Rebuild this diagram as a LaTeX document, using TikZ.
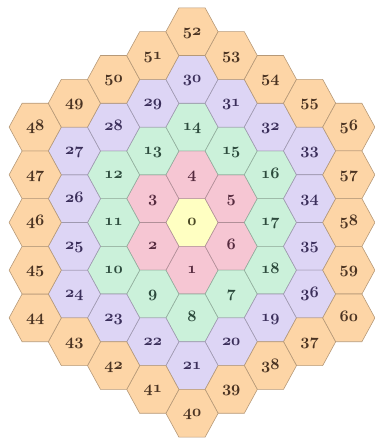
\documentclass[tikz,border=0pt]{standalone}
\usepackage{fix-cm}
\definecolor{cY}{HTML}{FFFFC2}
\definecolor{cP}{HTML}{F6C6D3}
\definecolor{cG}{HTML}{CBF1DA}
\definecolor{cV}{HTML}{DDD5F5}
\definecolor{cO}{HTML}{FDD5A6}
\definecolor{tY}{HTML}{4A4824}
\definecolor{tP}{HTML}{552A3E}
\definecolor{tG}{HTML}{2C4A3C}
\definecolor{tV}{HTML}{3A2E5A}
\definecolor{tO}{HTML}{4A3322}
\newcommand\osnum[1]{{\usefont{OML}{cmm}{b}{it}\fontsize{16}{16}\selectfont #1}}
\tikzset{
  hexbox/.style={line width=0.6pt},
  hexnum/.style={inner sep=0pt, text height=7pt, text depth=0pt}
}
\newcommand\hexcell[5]{%
  \begin{scope}[shift={({192+39.2*#1},{219.5+23.85*#2})}]
    \filldraw[hexbox, fill=#3, draw=#3!72!black]
      (-26.1,0) -- (-13.1,23.85) -- (13.1,23.85) -- (26.1,0)
      -- (13.1,-23.85) -- (-13.1,-23.85) -- cycle;
    \node[hexnum, text=#4] (h#5) at (0,0) {\osnum{#5}};
  \end{scope}}
\begin{document}
\begin{tikzpicture}[x=1pt,y=1pt]
\useasboundingbox (0,0) rectangle (375,442);
\hexcell{0}{0}{cY}{tY}{0}
\foreach \i/\v/\n in {0/-2/1,-1/-1/2,-1/1/3,0/2/4,1/1/5,1/-1/6}
  {\hexcell{\i}{\v}{cP}{tP}{\n}}
\foreach \i/\v/\n in {1/-3/7,0/-4/8,-1/-3/9,-2/-2/10,-2/0/11,-2/2/12,
  -1/3/13,0/4/14,1/3/15,2/2/16,2/0/17,2/-2/18}
  {\hexcell{\i}{\v}{cG}{tG}{\n}}
\foreach \i/\v/\n in {2/-4/19,1/-5/20,0/-6/21,-1/-5/22,-2/-4/23,-3/-3/24,
  -3/-1/25,-3/1/26,-3/3/27,-2/4/28,-1/5/29,0/6/30,1/5/31,2/4/32,3/3/33,
  3/1/34,3/-1/35,3/-3/36}
  {\hexcell{\i}{\v}{cV}{tV}{\n}}
\foreach \i/\v/\n in {3/-5/37,2/-6/38,1/-7/39,0/-8/40,-1/-7/41,-2/-6/42,
  -3/-5/43,-4/-4/44,-4/-2/45,-4/0/46,-4/2/47,-4/4/48,-3/5/49,-2/6/50,
  -1/7/51,0/8/52,1/7/53,2/6/54,3/5/55,4/4/56,4/2/57,4/0/58,4/-2/59,4/-4/60}
  {\hexcell{\i}{\v}{cO}{tO}{\n}}
\end{tikzpicture}
\end{document}
